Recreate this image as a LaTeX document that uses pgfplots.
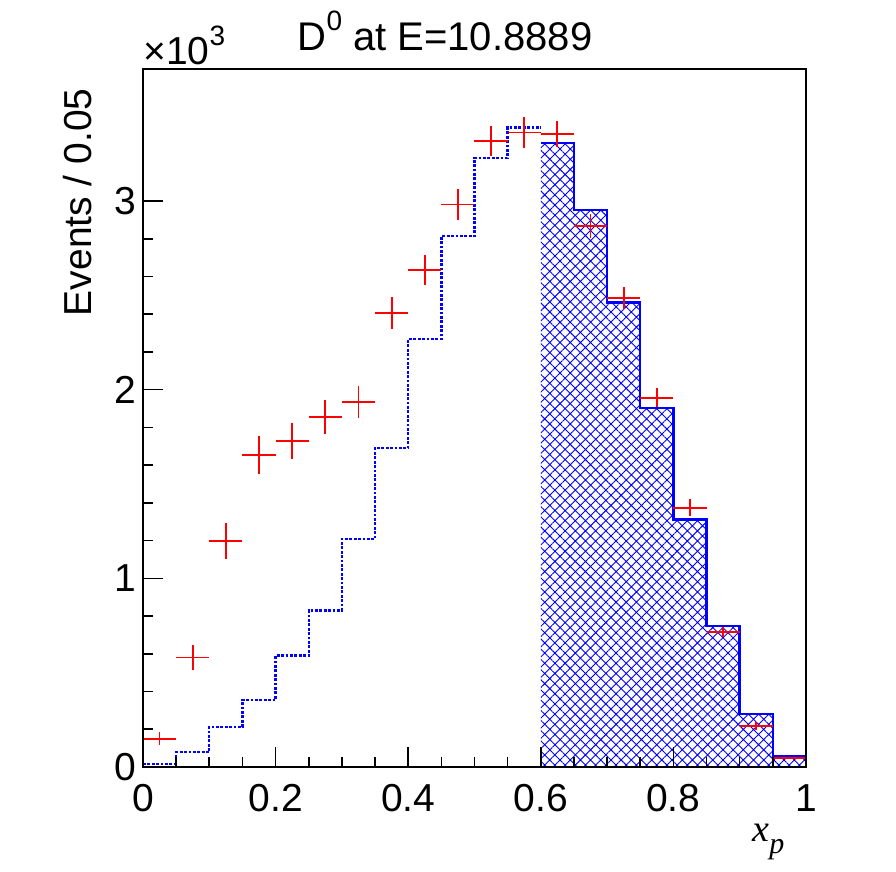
\documentclass[border=0pt]{standalone}
\usepackage{fontspec}
\setmainfont{Liberation Sans}
\newfontfamily\serifrm{Liberation Serif}
\usepackage{pgfplots}
\pgfplotsset{compat=1.18}
\usetikzlibrary{patterns.meta}

\pgfplotstableread{
x y
0.00 16
0.05 78
0.10 212
0.15 355
0.20 590
0.25 830
0.30 1208
0.35 1691
0.40 2268
0.45 2814
0.50 3228
0.55 3390
0.60 3390
}\mcleft

\pgfplotstableread{
x y
0.60 3308
0.65 2951
0.70 2462
0.75 1902
0.80 1311
0.85 748
0.90 281
0.95 59
1.00 59
}\mcright

\pgfplotstableread{
x y ex ey
0.025 150 0.025 34
0.075 580 0.025 68
0.125 1198 0.025 94
0.175 1652 0.025 100
0.225 1728 0.025 97
0.275 1855 0.025 90
0.325 1935 0.025 87
0.375 2407 0.025 83
0.425 2634 0.025 81
0.475 2982 0.025 80
0.525 3320 0.025 80
0.575 3363 0.025 80
0.625 3355 0.025 68
0.675 2867 0.025 64
0.725 2486 0.025 57
0.775 1957 0.025 50
0.825 1374 0.025 44
0.875 716 0.025 27
0.925 217 0.025 21
0.975 48 0.025 5
}\data

\begin{document}
\begin{tikzpicture}
\useasboundingbox (-71.5pt,-52.5pt) rectangle (376.5pt,383.5pt);
\begin{axis}[
  scale only axis, width=331.5pt, height=349pt,
  xmin=0, xmax=1, ymin=0, ymax=3700,
  xtick={0,0.2,0.4,0.6,0.8,1}, xticklabels={0,0.2,0.4,0.6,0.8,1},
  minor x tick num=3,
  ytick={0,1000,2000,3000}, yticklabels={0,1,2,3},
  minor y tick num=4,
  tick align=inside, xtick pos=lower, ytick pos=left,
  major tick length=10pt, minor tick length=5pt,
  axis line style={line width=0.8pt},
  tick style={black, line width=0.8pt},
  tick label style={font=\fontsize{19.5}{21}\selectfont},
  xticklabel style={anchor=north, inner sep=0pt, yshift=-8.5pt},
  yticklabel style={anchor=east, inner sep=0pt, xshift=-3pt},
  axis on top,
]
\addplot[const plot, blue, line width=1.2pt, dash pattern=on 1.4pt off 0.8pt]
  table[x=x, y=y] {\mcleft};
\addplot[const plot, draw=none,
  pattern={Hatch[angle=45, distance=3.6pt, line width=0.45pt]}, pattern color=blue]
  table[x=x, y=y] {\mcright} \closedcycle;
\addplot[const plot, blue, line width=1.2pt]
  table[x=x, y=y] {\mcright};
\addplot[draw=none, mark=none,
  error bars/.cd, x dir=both, x explicit, y dir=both, y explicit,
  error mark=none, error bar style={draw=red, solid, line width=0.9pt}]
  table[x=x, y=y, x error=ex, y error=ey] {\data};
\end{axis}
\node[anchor=base west, inner sep=0pt, font=\fontsize{19.5}{21}\selectfont]
  at (0pt,351pt) {×10\raisebox{0.5em}{\fontsize{14}{14}\selectfont 3}};
\node[anchor=base, inner sep=0pt, font=\fontsize{20}{22}\selectfont]
  at (151pt,358pt) {D\raisebox{0.5em}{\fontsize{14}{14}\selectfont 0} at E=10.8889};
\node[anchor=base east, rotate=90, inner sep=0pt, font=\fontsize{19.5}{21}\selectfont]
  at (-25.5pt,339.5pt) {Events / 0.05};
\node[anchor=base west, inner sep=0pt]
  at (304.5pt,-37.5pt) {\serifrm\itshape\fontsize{19}{20}\selectfont x\raisebox{-0.3em}{\fontsize{15}{15}\selectfont p}};
\end{tikzpicture}
\end{document}
